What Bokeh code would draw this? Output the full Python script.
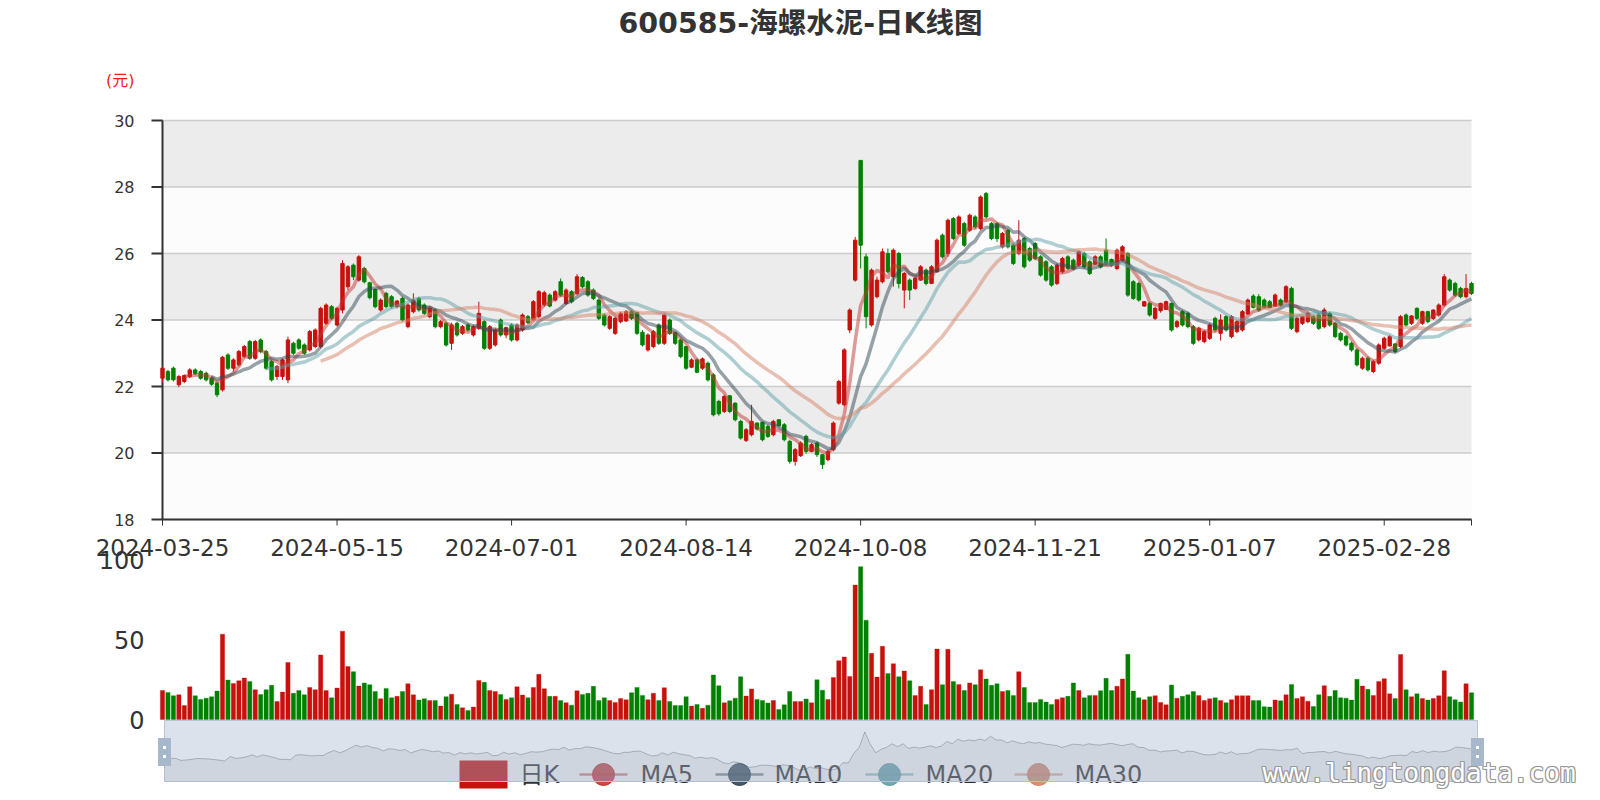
import numpy as np
from bokeh.plotting import figure
from bokeh.layouts import column
from bokeh.models import FixedTicker, Range1d, ColumnDataSource
from bokeh.core.properties import value
from bokeh.embed import file_html
from bokeh.resources import INLINE

# ---------------- data ----------------
open_ = [22.25, 22.45, 22.55, 22.05, 22.15, 22.30, 22.50, 22.45, 22.40, 22.25,
         22.10, 21.90, 22.95, 22.55, 22.65, 22.90, 23.35, 22.85, 23.40, 23.05,
         22.75, 22.30, 22.30, 22.20, 23.30, 23.40, 23.25, 23.10, 23.20, 23.20,
         23.90, 24.40, 23.85, 24.30, 25.00, 25.65, 25.20, 25.55, 25.12, 24.92,
         24.30, 24.80, 24.70, 24.40, 24.65, 23.80, 24.25, 24.65, 24.45, 24.10,
         24.30, 23.80, 23.90, 23.30, 23.90, 23.60, 23.85, 23.55, 23.75, 23.95,
         23.15, 23.25, 24.00, 23.55, 23.85, 23.40, 23.70, 24.10, 24.02, 24.10,
         24.46, 24.75, 24.60, 25.15, 24.50, 24.85, 24.80, 25.28, 25.15, 24.90,
         24.60, 24.15, 23.75, 23.60, 23.95, 23.97, 24.25, 24.22, 23.63, 23.10,
         23.20, 23.85, 23.30, 24.00, 23.62, 23.40, 23.20, 22.58, 22.80, 22.55,
         22.70, 22.35, 21.55, 21.25, 21.72, 21.50, 20.95, 20.38, 20.55, 20.90,
         20.92, 20.80, 20.55, 21.00, 20.85, 20.35, 19.75, 19.92, 20.50, 20.05,
         20.30, 19.95, 19.80, 20.10, 21.50, 21.45, 23.70, 25.20, 28.80, 25.90,
         23.85, 24.70, 25.15, 26.00, 25.30, 26.00, 24.90, 25.20, 24.95, 25.20,
         25.50, 25.10, 25.45, 26.55, 26.00, 27.05, 26.60, 26.90, 26.70, 27.10,
         26.75, 27.80, 26.90, 26.90, 26.20, 26.70, 26.25, 26.00, 26.45, 26.15,
         26.30, 25.90, 25.75, 25.60, 25.10, 25.45, 25.90, 25.80, 25.65, 26.00,
         25.75, 25.68, 25.90, 26.10, 25.82, 25.55, 25.80, 26.00, 25.15, 25.10,
         24.42, 24.50, 24.05, 24.28, 24.32, 24.50, 23.80, 24.25, 24.20, 23.80,
         23.40, 23.35, 23.45, 24.05, 23.60, 24.10, 23.50, 23.65, 23.70, 24.18,
         24.72, 24.70, 24.60, 24.55, 24.42, 24.60, 24.55, 24.95, 23.65, 23.90,
         23.95, 24.10, 24.15, 23.80, 24.20, 23.90, 23.60, 23.50, 23.30, 23.10,
         22.55, 22.85, 22.45, 22.70, 23.15, 23.22, 23.28, 23.20, 24.15, 23.90,
         24.35, 23.90, 24.25, 24.05, 24.15, 24.45, 25.20, 25.10, 24.95, 24.70,
         25.10]
close_ = [22.55, 22.20, 22.20, 22.30, 22.33, 22.50, 22.38, 22.25, 22.20, 22.07,
          21.75, 22.88, 22.55, 22.80, 23.05, 23.20, 22.85, 23.35, 23.05, 22.55,
          22.20, 22.60, 22.80, 23.40, 23.00, 23.15, 23.00, 23.65, 23.70, 24.35,
          24.45, 24.05, 24.35, 25.70, 25.60, 25.30, 25.90, 25.15, 24.67, 24.40,
          24.60, 24.40, 24.40, 24.57, 24.00, 24.45, 24.60, 24.30, 24.20, 24.35,
          23.80, 23.95, 23.25, 23.85, 23.55, 23.80, 23.70, 23.80, 24.20, 23.15,
          23.80, 23.70, 23.55, 23.77, 23.40, 23.85, 24.15, 23.92, 24.55, 24.85,
          24.82, 24.42, 24.85, 24.75, 24.90, 24.55, 25.30, 25.00, 24.75, 24.65,
          24.05, 23.85, 24.10, 24.05, 24.20, 24.25, 24.05, 23.60, 23.25, 23.55,
          23.65, 23.30, 24.15, 23.60, 23.30, 22.90, 22.55, 22.80, 22.43, 22.83,
          22.20, 21.15, 21.18, 21.70, 21.25, 21.00, 20.45, 20.70, 20.95, 20.72,
          20.40, 20.50, 20.95, 20.82, 20.40, 19.75, 20.10, 20.30, 20.05, 20.25,
          19.95, 19.65, 20.05, 20.90, 22.15, 23.10, 24.30, 26.40, 26.25, 24.10,
          25.50, 25.20, 26.05, 25.45, 26.10, 25.10, 25.40, 24.90, 25.25, 25.60,
          25.10, 25.60, 26.40, 25.90, 27.00, 26.45, 27.10, 26.25, 27.15, 26.80,
          27.70, 27.10, 26.45, 26.45, 26.60, 26.20, 25.70, 26.40, 25.60, 25.80,
          25.85, 25.35, 25.20, 25.05, 25.65, 25.85, 25.55, 25.55, 26.05, 25.60,
          25.40, 25.90, 25.60, 25.70, 25.65, 26.10, 26.20, 24.75, 24.65, 24.60,
          24.55, 24.15, 24.35, 24.50, 24.55, 23.70, 23.95, 23.85, 23.80, 23.30,
          23.75, 23.65, 23.85, 23.70, 24.00, 23.70, 24.10, 23.95, 24.25, 24.60,
          24.38, 24.30, 24.38, 24.38, 24.75, 24.45, 25.00, 23.75, 24.05, 24.10,
          24.20, 23.90, 23.75, 24.30, 23.85, 23.50, 23.40, 23.25, 23.10, 22.65,
          22.85, 22.50, 22.75, 23.25, 23.45, 23.50, 23.05, 24.10, 23.85, 24.12,
          24.05, 24.25, 23.95, 24.30, 24.45, 25.30, 24.90, 24.75, 24.70, 24.95,
          24.80]
low_ = [22.12, 22.15, 22.15, 21.98, 22.10, 22.25, 22.35, 22.20, 22.15, 22.02,
        21.68, 21.85, 22.50, 22.45, 22.60, 22.85, 22.80, 22.80, 23.00, 22.50,
        22.15, 22.20, 22.20, 22.10, 22.95, 23.10, 22.95, 23.05, 23.15, 23.15,
        23.85, 24.00, 23.80, 24.20, 24.90, 25.20, 25.15, 25.10, 24.62, 24.35,
        24.25, 24.35, 24.35, 24.35, 23.95, 23.75, 24.20, 24.25, 24.15, 24.05,
        23.75, 23.75, 23.20, 23.10, 23.50, 23.55, 23.65, 23.50, 23.70, 23.10,
        23.10, 23.20, 23.50, 23.45, 23.35, 23.35, 23.65, 23.88, 23.98, 24.05,
        24.40, 24.38, 24.55, 24.70, 24.45, 24.50, 24.75, 24.95, 24.70, 24.60,
        24.00, 23.80, 23.70, 23.55, 23.90, 23.95, 24.00, 23.55, 23.20, 23.05,
        23.15, 23.25, 23.25, 23.55, 23.25, 22.85, 22.50, 22.55, 22.40, 22.50,
        22.15, 21.10, 21.12, 21.20, 21.20, 20.95, 20.40, 20.33, 20.50, 20.68,
        20.35, 20.45, 20.50, 20.78, 20.35, 19.68, 19.62, 19.88, 19.98, 20.02,
        19.88, 19.52, 19.75, 20.05, 21.45, 21.40, 23.60, 25.15, 25.55, 23.75,
        23.80, 24.65, 25.10, 25.40, 25.00, 24.95, 24.35, 24.60, 24.90, 25.18,
        25.04, 25.08, 25.42, 25.85, 25.90, 26.40, 26.55, 26.20, 26.65, 26.75,
        26.70, 27.05, 26.40, 26.35, 26.15, 26.15, 25.65, 25.95, 25.55, 25.75,
        25.80, 25.30, 25.15, 25.00, 25.05, 25.40, 25.50, 25.50, 25.60, 25.55,
        25.35, 25.65, 25.55, 25.65, 25.60, 25.50, 25.75, 24.70, 24.60, 24.55,
        24.40, 24.10, 24.00, 24.22, 24.30, 23.65, 23.75, 23.80, 23.75, 23.25,
        23.35, 23.30, 23.40, 23.65, 23.38, 23.65, 23.45, 23.60, 23.65, 24.15,
        24.35, 24.25, 24.35, 24.35, 24.40, 24.42, 24.50, 23.70, 23.60, 23.85,
        23.90, 23.85, 23.70, 23.75, 23.80, 23.45, 23.35, 23.20, 23.05, 22.60,
        22.50, 22.45, 22.40, 22.65, 23.10, 23.20, 23.00, 23.15, 23.80, 23.85,
        24.00, 23.85, 23.90, 24.00, 24.10, 24.40, 24.85, 24.70, 24.65, 24.65,
        24.75]
high_ = [22.60, 22.50, 22.60, 22.35, 22.36, 22.55, 22.55, 22.50, 22.45, 22.30,
         22.15, 22.92, 23.00, 22.85, 23.10, 23.25, 23.40, 23.40, 23.45, 23.10,
         22.80, 22.65, 22.85, 23.50, 23.35, 23.45, 23.30, 23.70, 23.75, 24.40,
         24.50, 24.45, 24.40, 25.80, 25.65, 25.70, 25.95, 25.60, 25.15, 24.95,
         24.65, 24.85, 24.75, 24.60, 24.70, 24.50, 24.80, 24.70, 24.50, 24.40,
         24.35, 24.00, 23.95, 23.92, 23.95, 23.85, 23.90, 23.85, 24.55, 24.00,
         23.85, 23.75, 24.05, 23.80, 23.90, 23.90, 24.20, 24.15, 24.60, 24.90,
         24.88, 24.80, 24.90, 25.25, 24.95, 24.90, 25.38, 25.32, 25.20, 24.95,
         24.65, 24.20, 24.15, 24.10, 24.25, 24.30, 24.30, 24.25, 23.70, 23.60,
         23.70, 23.90, 24.20, 24.05, 23.65, 23.45, 23.22, 22.85, 22.85, 22.87,
         22.75, 22.40, 21.60, 21.75, 21.75, 21.52, 21.00, 20.75, 21.45, 20.92,
         20.95, 20.85, 21.00, 21.02, 20.90, 20.40, 20.15, 20.35, 20.55, 20.30,
         20.35, 19.97, 20.10, 20.95, 22.20, 23.15, 24.35, 26.50, 28.80, 26.00,
         25.55, 25.30, 26.15, 26.15, 26.15, 26.05, 25.45, 25.25, 25.30, 25.65,
         25.55, 25.65, 26.45, 26.60, 27.05, 27.10, 27.15, 26.95, 27.20, 27.15,
         27.75, 27.85, 26.95, 26.95, 26.65, 26.75, 26.30, 27.00, 26.50, 26.20,
         26.35, 25.95, 25.80, 25.65, 25.70, 25.90, 25.95, 25.85, 26.10, 26.05,
         25.80, 25.95, 25.95, 26.45, 25.85, 26.15, 26.25, 26.05, 25.20, 25.15,
         24.57, 24.55, 24.40, 24.52, 24.58, 24.52, 24.00, 24.30, 24.25, 23.85,
         23.80, 23.70, 23.90, 24.10, 24.17, 24.15, 24.15, 24.00, 24.30, 24.65,
         24.78, 24.78, 24.65, 24.60, 24.80, 24.65, 25.05, 25.00, 24.10, 24.12,
         24.25, 24.15, 24.20, 24.37, 24.25, 23.95, 23.65, 23.55, 23.35, 23.15,
         22.90, 22.90, 22.80, 23.30, 23.50, 23.55, 23.30, 24.15, 24.20, 24.15,
         24.38, 24.28, 24.28, 24.32, 24.50, 25.38, 25.25, 25.15, 25.00, 25.38,
         25.15]
volume = [18.2, 17.0, 14.9, 15.5, 8.8, 20.5, 14.9, 12.6, 13.4, 14.3,
          17.8, 53.5, 24.7, 22.6, 24.3, 26.0, 23.9, 18.7, 15.7, 18.7,
          21.4, 11.3, 17.2, 35.8, 16.4, 18.2, 15.5, 20.1, 18.7, 40.5,
          18.2, 13.6, 19.7, 55.3, 33.3, 30.0, 21.0, 22.9, 21.8, 17.6,
          13.0, 19.5, 13.6, 14.5, 17.6, 22.4, 15.5, 12.2, 13.0, 11.9,
          11.9, 8.4, 14.3, 15.9, 9.4, 7.3, 5.7, 7.8, 24.5, 23.3,
          18.2, 17.6, 15.7, 12.6, 13.6, 20.5, 15.3, 13.6, 20.1, 28.3,
          19.3, 14.5, 14.5, 11.9, 10.5, 9.0, 18.0, 15.7, 16.4, 20.8,
          11.9, 13.6, 11.9, 10.7, 13.2, 12.4, 16.8, 20.1, 15.1, 12.4,
          16.4, 11.9, 19.9, 11.3, 8.8, 8.8, 14.3, 8.4, 9.4, 7.1,
          9.0, 27.9, 21.2, 10.5, 11.7, 13.4, 26.8, 14.7, 19.1, 12.6,
          11.9, 10.3, 11.9, 6.3, 9.2, 17.6, 11.3, 11.3, 12.8, 10.5,
          24.9, 18.4, 12.6, 26.4, 36.9, 39.2, 27.0, 84.3, 95.8, 62.3,
          41.5, 26.6, 45.9, 28.9, 35.0, 26.8, 30.4, 24.3, 15.1, 20.8,
          9.4, 18.7, 44.2, 21.8, 44.0, 23.9, 22.0, 18.2, 22.9, 21.8,
          31.2, 25.4, 21.4, 22.4, 17.6, 18.2, 15.1, 30.0, 20.1, 10.7,
          10.7, 12.6, 10.9, 9.4, 12.6, 13.6, 14.5, 22.9, 18.2, 13.6,
          15.1, 15.1, 18.0, 25.8, 18.2, 20.8, 25.4, 40.9, 17.8, 13.6,
          12.4, 14.3, 14.9, 10.7, 9.2, 21.6, 13.4, 14.5, 15.5, 17.6,
          15.1, 11.9, 13.0, 13.6, 11.9, 10.5, 12.4, 14.9, 14.9, 14.9,
          11.9, 11.9, 8.0, 7.8, 12.2, 11.7, 15.5, 22.0, 13.2, 14.3,
          11.5, 8.2, 15.5, 21.2, 14.5, 18.2, 13.6, 13.4, 12.2, 25.2,
          21.0, 18.9, 15.1, 23.9, 25.6, 16.1, 13.2, 40.7, 18.7, 14.3,
          16.1, 13.2, 12.2, 13.2, 14.9, 30.6, 14.3, 12.4, 10.9, 22.4,
          16.8]
tick_idx = [0, 32, 64, 96, 128, 160, 192, 224]
tick_text = ["2024-03-25", "2024-05-15", "2024-07-01", "2024-08-14",
             "2024-10-08", "2024-11-21", "2025-01-07", "2025-02-28"]
price_ticks = [18, 20, 22, 24, 26, 28, 30]
vol_ticks = [0, 50, 100]
ma_periods = [5, 10, 20, 30]
ma_names = ["MA5", "MA10", "MA20", "MA30"]
ma_colors = ["#c23531", "#2f4554", "#61a0a8", "#d48265"]
title_text = "600585-海螺水泥-日K线图"
unit_text = "(元)"
kline_name = "日K"
watermark = "www.lingtongdata.com"

# ---------------- derived ----------------
N = len(close_)
xs = list(range(N))
UP, DOWN = "#c8100c", "#008000"
colors = [UP if c >= o else DOWN for o, c in zip(open_, close_)]


def moving_average(n):
    out = []
    for i in range(N):
        if i < n - 1:
            out.append(float("nan"))
        else:
            out.append(sum(close_[i - n + 1:i + 1]) / n)
    return out


# ---------------- geometry (page pixels) ----------------
W, H = 1600, 800
FL, FR = 162, 1471            # first / last category
FRAME_L = 150                 # shared frame left edge of all three figures
PT, PB = 120, 519             # page y of price 30 / price 18
S = (FR - FL) / (N - 1)
PY = (PB - PT) / (price_ticks[-1] - price_ticks[0])
V0 = 719                      # page y of volume 0
VS = 1.595                    # px per volume unit
C_H = 100                     # header strip height
A_TOP = 118                   # price frame top (page)
A_FRAME_BOT = 526             # price frame bottom (page)
A_BOT_BORDER = 2
A_H = A_FRAME_BOT + A_BOT_BORDER - C_H
B_TOP = C_H + A_H             # page y where lower figure starts
B_FRAME_TOP = B_TOP + 27


def px2x(px):
    return (px - FL) / S


def py2v(py):
    return (V0 - py) / VS


def py2c(py):
    return C_H - py


XR = (px2x(FRAME_L), px2x(W))
FONT = "DejaVu Sans"
MIX = "DejaVu Sans, Noto Sans CJK SC"
TXT = "#333333"

common = dict(width=W, output_backend="svg", toolbar_location=None,
              min_border_left=FRAME_L, min_border_right=0)

# ---------------- header strip (title + unit) ----------------
C = figure(height=C_H, x_range=Range1d(*XR), y_range=Range1d(0, C_H),
           x_axis_location=None, min_border_top=0, min_border_bottom=0, **common)
C.outline_line_color = None
C.xgrid.visible = False
C.ygrid.visible = False
cy = C.yaxis[0]
cy.ticker = FixedTicker(ticks=[py2c(80)])
cy.major_label_overrides = {py2c(80): unit_text}
cy.axis_line_color = None
cy.major_tick_line_color = None
cy.minor_tick_line_color = None
cy.major_tick_out = 0
cy.major_label_standoff = 16
cy.major_label_text_font = MIX
cy.major_label_text_font_size = "16px"
cy.major_label_text_color = "#ee1c1c"
C.text(x=[px2x(800)], y=[py2c(23)], text=[title_text], text_font=value(MIX),
       text_font_size=value("28.5px"), text_font_style="bold", text_color=TXT,
       text_align="center", text_baseline="middle")

# ---------------- price chart ----------------
A = figure(height=A_H, x_range=Range1d(*XR),
           y_range=Range1d(price_ticks[0] - (A_FRAME_BOT - PB) / PY,
                           price_ticks[-1] + (PT - A_TOP) / PY),
           x_axis_location=None,
           min_border_top=A_TOP - C_H, min_border_bottom=A_BOT_BORDER, **common)
A.outline_line_color = None
A.background_fill_color = "white"
A.xgrid.visible = False
A.ygrid.visible = False
# split-area bands and grid lines over the category extent
for k in range(len(price_ticks) - 1):
    A.quad(left=[0], right=[N - 1], bottom=[price_ticks[k]], top=[price_ticks[k + 1]],
           fill_color="#ececec" if k % 2 else "#fcfcfc", line_color=None)
A.segment(x0=[0] * len(price_ticks), x1=[N - 1] * len(price_ticks),
          y0=price_ticks, y1=price_ticks, line_color="#cccccc", line_width=1.5)
# y axis line and ticks at the first category
A.segment(x0=[0], x1=[0], y0=[price_ticks[0]], y1=[price_ticks[-1]],
          line_color=TXT, line_width=2)
A.segment(x0=[px2x(151)] * len(price_ticks), x1=[0] * len(price_ticks),
          y0=price_ticks, y1=price_ticks, line_color=TXT, line_width=2)
# x axis line and ticks along price 18
xt = tick_idx + [N - 1]
A.segment(x0=[0], x1=[N - 1], y0=[price_ticks[0]], y1=[price_ticks[0]],
          line_color=TXT, line_width=2)
A.segment(x0=xt, x1=xt, y0=[price_ticks[0]] * len(xt),
          y1=[price_ticks[0] - 6 / PY] * len(xt), line_color=TXT, line_width=1)
ay = A.yaxis[0]
ay.ticker = FixedTicker(ticks=price_ticks)
ay.axis_line_color = None
ay.major_tick_line_color = None
ay.minor_tick_line_color = None
ay.major_tick_out = 0
ay.major_label_standoff = 16
ay.major_label_text_font = FONT
ay.major_label_text_font_size = "16px"
ay.major_label_text_color = TXT

src = ColumnDataSource(dict(
    x=xs, o=open_, c=close_, h=high_, l=low_,
    top=[max(o, c) for o, c in zip(open_, close_)],
    bot=[min(o, c) for o, c in zip(open_, close_)],
    color=colors, vol=volume))
A.segment(x0="x", y0="l", x1="x", y1="h", source=src, line_color="color", line_width=1)
A.vbar(x="x", top="top", bottom="bot", width=0.62, source=src,
       fill_color="color", line_color="color", line_width=1)
for n, col in zip(ma_periods, ma_colors):
    A.line(xs, moving_average(n), line_width=3.5, line_color=col, line_alpha=0.5)

# ---------------- volume + slider + legend ----------------
B = figure(height=H - B_TOP, x_range=Range1d(*XR),
           y_range=Range1d(py2v(H), py2v(B_FRAME_TOP)),
           x_axis_location="above", min_border_top=B_FRAME_TOP - B_TOP,
           min_border_bottom=0, **common)
B.outline_line_color = None
B.background_fill_color = "white"
B.xgrid.visible = False
B.ygrid.visible = False
bx = B.xaxis[0]
bx.ticker = FixedTicker(ticks=tick_idx)
bx.major_label_overrides = {i: t for i, t in zip(tick_idx, tick_text)}
bx.axis_line_color = None
bx.major_tick_line_color = None
bx.minor_tick_line_color = None
bx.major_tick_out = 0
bx.major_tick_in = 0
bx.major_label_standoff = 0
bx.major_label_text_font = FONT
bx.major_label_text_font_size = "23px"
bx.major_label_text_color = TXT
by = B.yaxis[0]
by.ticker = FixedTicker(ticks=vol_ticks)
by.axis_line_color = None
by.major_tick_line_color = None
by.minor_tick_line_color = None
by.major_tick_out = 0
by.major_label_standoff = 6
by.major_label_text_font = FONT
by.major_label_text_font_size = "24px"
by.major_label_text_color = TXT

B.vbar(x="x", top="vol", bottom=0, width=0.78, source=src,
       fill_color="color", line_color="color", line_alpha=0.35)

# legend (the slider is drawn over it, as in the reference)
ly = py2v(774)
B.rect(x=[px2x(483)], y=[ly], width=48, height=28, width_units="screen",
       height_units="screen", fill_color=UP, line_color=None)
ma_icon_px = [603, 739, 889, 1038]
for cx, col in zip(ma_icon_px, ma_colors):
    B.segment(x0=[px2x(cx - 24)], y0=[ly], x1=[px2x(cx + 24)], y1=[ly],
              line_color=col, line_width=2.5, line_alpha=0.6)
    B.scatter(x=[px2x(cx)], y=[ly], size=22, marker="circle",
              fill_color=col, line_color=col, fill_alpha=0.9)
B.text(x=[px2x(p) for p in [519, 640, 774, 925, 1074]], y=[ly] * 5,
       text=[kline_name] + ma_names, text_font=value(MIX),
       text_font_size=value("24px"), text_color=TXT,
       text_align="left", text_baseline="middle")

# data-zoom slider
sl_l, sl_r = px2x(164), px2x(1477)
sl_t, sl_b = py2v(720), py2v(781)
B.quad(left=[sl_l], right=[sl_r], top=[sl_t], bottom=[sl_b],
       fill_color="#a7b7cc", fill_alpha=0.4, line_color="#b9c5d6",
       line_width=1, level="overlay")
o_arr = np.array(open_)
lo = o_arr.min() - 0.3 * (o_arr.max() - o_arr.min())
hi = o_arr.max() + 0.3 * (o_arr.max() - o_arr.min())
sh_x = [sl_l + (sl_r - sl_l) * i / (N - 1) for i in xs]
sh_y = [sl_b + (v - lo) / (hi - lo) * (sl_t - sl_b) for v in open_]
B.patch(x=[sh_x[0]] + sh_x + [sh_x[-1]], y=[sl_b] + sh_y + [sl_b],
        fill_color="#2f4554", fill_alpha=0.08, line_color=None, level="overlay")
B.line(sh_x, sh_y, line_color="#2f4554", line_alpha=0.3, line_width=1, level="overlay")
hy = py2v(751.5)
B.rect(x=[sl_l, sl_r], y=[hy, hy], width=13, height=28, width_units="screen",
       height_units="screen", fill_color="#a7b7cc", line_color=None, level="overlay")
for dy in (-4.5, 4.5):
    B.rect(x=[sl_l, sl_r], y=[py2v(751.5 + dy)] * 2, width=3, height=3,
           width_units="screen", height_units="screen", fill_color="white",
           line_color=None, level="overlay")

# watermark (outlined text)
wx, wy = px2x(1262), py2v(772)
for dx, dy in [(-1, 0), (1, 0), (0, -1), (0, 1), (-1, -1), (1, 1), (-1, 1), (1, -1)]:
    B.text(x=[wx], y=[wy], text=[watermark], x_offset=dx, y_offset=dy,
           text_font=value("DejaVu Sans Mono"), text_font_size=value("26px"),
           text_color="#9a9a9a", text_align="left", text_baseline="middle",
           level="overlay")
B.text(x=[wx], y=[wy], text=[watermark], text_font=value("DejaVu Sans Mono"),
       text_font_size=value("26px"), text_color="white", text_align="left",
       text_baseline="middle", level="overlay")

layout = column(C, A, B, spacing=0)
open("out.html", "w").write(file_html(layout, INLINE, title=title_text))
